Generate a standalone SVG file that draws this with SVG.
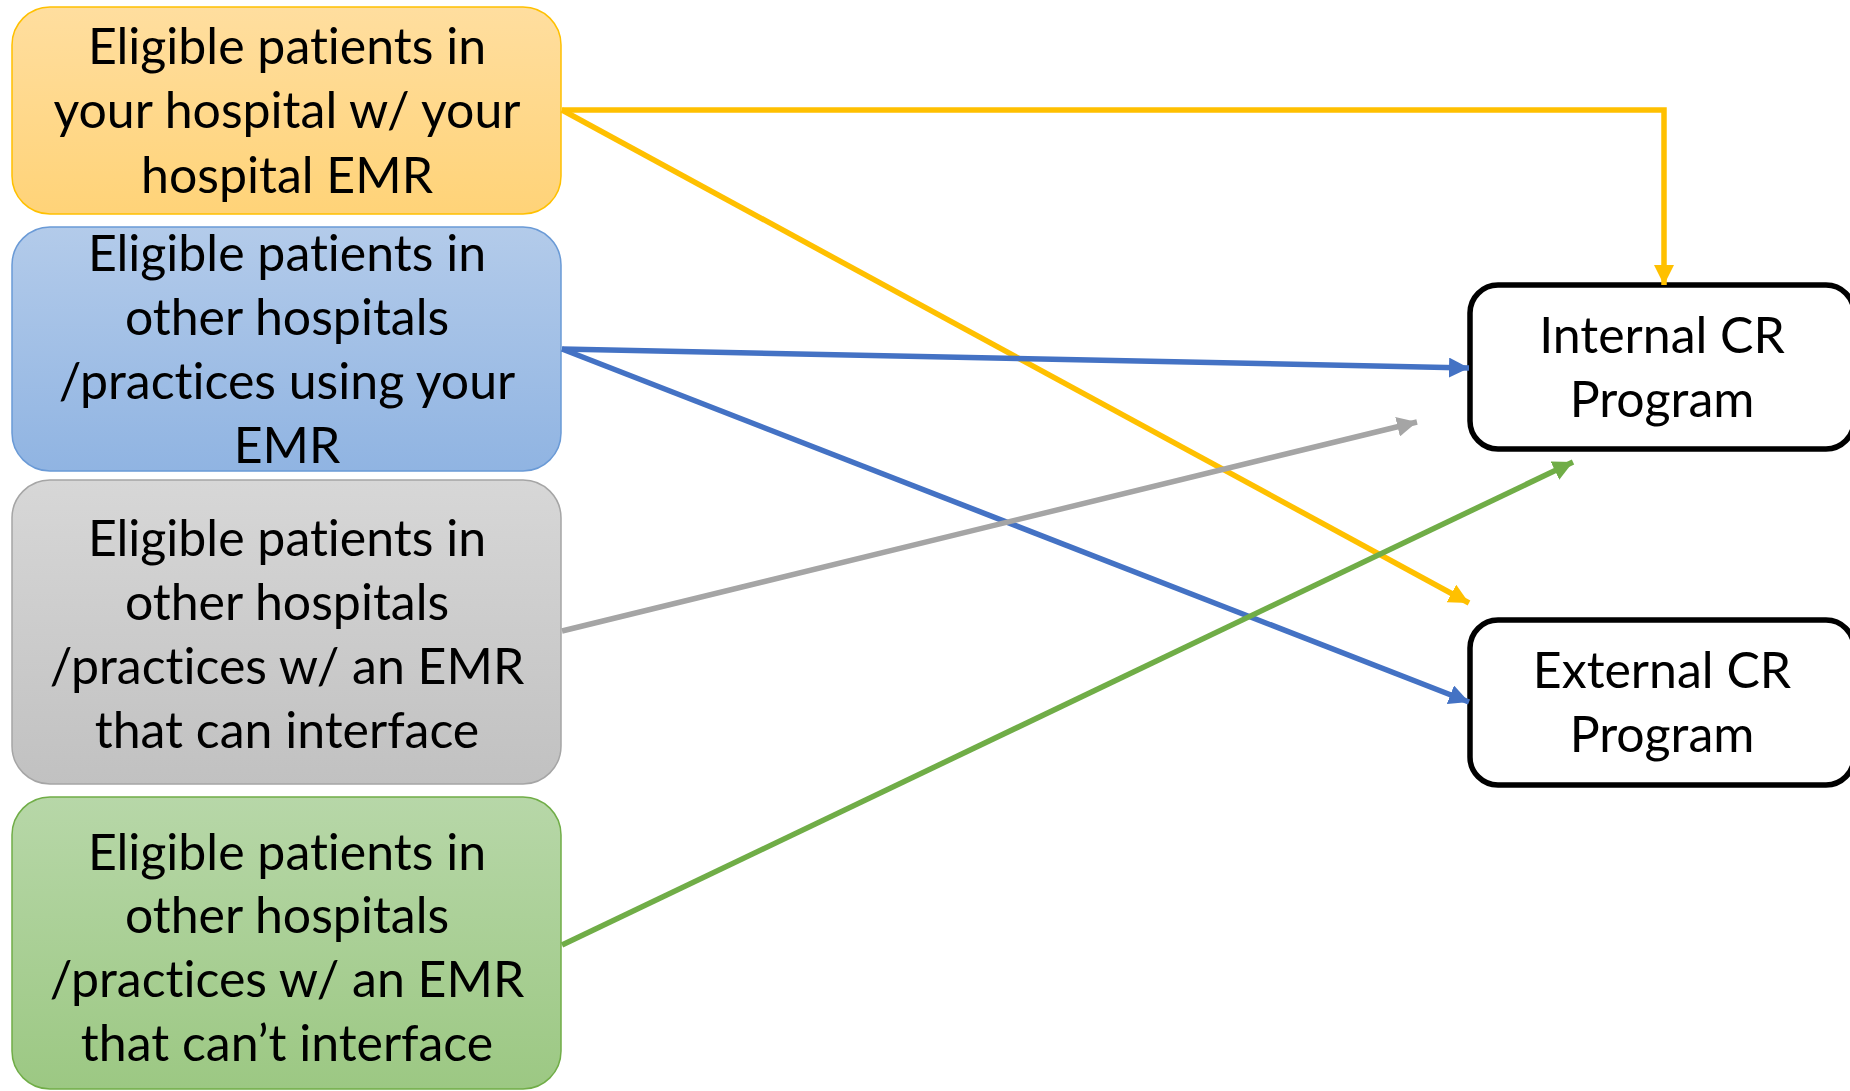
<svg xmlns="http://www.w3.org/2000/svg" width="1850" height="1091" viewBox="0 0 1850 1091">
<style>
.t{font-family:Lato,"Open Sans","Liberation Sans",sans-serif;font-size:50px;fill:#000;text-anchor:middle;font-variant-ligatures:none;font-feature-settings:"liga" 0}
.c{fill:none;stroke-width:5.5}
.src{stroke-width:1.5}
.dst{fill:#fff;stroke:#000;stroke-width:5.5}
</style>
<defs>
<linearGradient id="gO" x1="0" y1="0" x2="0" y2="1"><stop offset="0" stop-color="#FFDE9F"/><stop offset="1" stop-color="#FFD378"/></linearGradient>
<linearGradient id="gB" x1="0" y1="0" x2="0" y2="1"><stop offset="0" stop-color="#B3CBEA"/><stop offset="1" stop-color="#90B4E2"/></linearGradient>
<linearGradient id="gG" x1="0" y1="0" x2="0" y2="1"><stop offset="0" stop-color="#D7D7D7"/><stop offset="1" stop-color="#C1C1C1"/></linearGradient>
<linearGradient id="gN" x1="0" y1="0" x2="0" y2="1"><stop offset="0" stop-color="#B7D7A8"/><stop offset="1" stop-color="#9CC883"/></linearGradient>
<marker id="aO" markerUnits="userSpaceOnUse" markerWidth="22" markerHeight="20" refX="20" refY="10" orient="auto"><path d="M0,0 L20,10 L0,20 Z" fill="#FFC000"/></marker>
<marker id="aB" markerUnits="userSpaceOnUse" markerWidth="22" markerHeight="20" refX="20" refY="10" orient="auto"><path d="M0,0 L20,10 L0,20 Z" fill="#4472C4"/></marker>
<marker id="aG" markerUnits="userSpaceOnUse" markerWidth="22" markerHeight="20" refX="20" refY="10" orient="auto"><path d="M0,0 L20,10 L0,20 Z" fill="#A5A5A5"/></marker>
<marker id="aN" markerUnits="userSpaceOnUse" markerWidth="22" markerHeight="20" refX="20" refY="10" orient="auto"><path d="M0,0 L20,10 L0,20 Z" fill="#70AD47"/></marker>
</defs>
<rect width="1850" height="1091" fill="#fff"/>
<g id="node-own-hospital">
<rect class="src" x="12" y="7" width="549" height="207" rx="38" fill="url(#gO)" stroke="#FFC000"/>
<text class="t" x="287" y="64">Eligible patients in</text>
<text class="t" x="287" y="128">your hospital w/ your</text>
<text class="t" x="287" y="193">hospital EMR</text>
</g>
<g id="node-same-emr">
<rect class="src" x="12" y="227" width="549" height="244" rx="38" fill="url(#gB)" stroke="#6A9AD6"/>
<text class="t" x="287" y="271">Eligible patients in</text>
<text class="t" x="287" y="335">other hospitals</text>
<text class="t" x="287" y="399">/practices using your</text>
<text class="t" x="287" y="463">EMR</text>
</g>
<g id="node-can-interface">
<rect class="src" x="12" y="480" width="549" height="304" rx="38" fill="url(#gG)" stroke="#A5A5A5"/>
<text class="t" x="287" y="556">Eligible patients in</text>
<text class="t" x="287" y="620">other hospitals</text>
<text class="t" x="287" y="684">/practices w/ an EMR</text>
<text class="t" x="287" y="748">that can interface</text>
</g>
<g id="node-cannot-interface">
<rect class="src" x="12" y="797" width="549" height="292" rx="38" fill="url(#gN)" stroke="#70AD47"/>
<text class="t" x="287" y="870">Eligible patients in</text>
<text class="t" x="287" y="933">other hospitals</text>
<text class="t" x="287" y="997">/practices w/ an EMR</text>
<text class="t" x="287" y="1061">that can’t interface</text>
</g>
<g id="node-internal">
<rect class="dst" x="1470" y="285" width="384" height="164" rx="28"/>
<text class="t" x="1662" y="353">Internal CR</text>
<text class="t" x="1662" y="417">Program</text>
</g>
<g id="node-external">
<rect class="dst" x="1470" y="620" width="384" height="165" rx="28"/>
<text class="t" x="1662" y="688">External CR</text>
<text class="t" x="1662" y="752">Program</text>
</g>
<g id="connectors">
<path class="c" d="M562,110 H1664 V285" stroke="#FFC000" marker-end="url(#aO)"/>
<path class="c" d="M562,110 L1469,603" stroke="#FFC000" marker-end="url(#aO)"/>
<path class="c" d="M562,349 L1469,368" stroke="#4472C4" marker-end="url(#aB)"/>
<path class="c" d="M562,349 L1469,702" stroke="#4472C4" marker-end="url(#aB)"/>
<path class="c" d="M562,631 L1417,422" stroke="#A5A5A5" marker-end="url(#aG)"/>
<path class="c" d="M562,945 L1573,462" stroke="#70AD47" marker-end="url(#aN)"/>
</g>
</svg>
